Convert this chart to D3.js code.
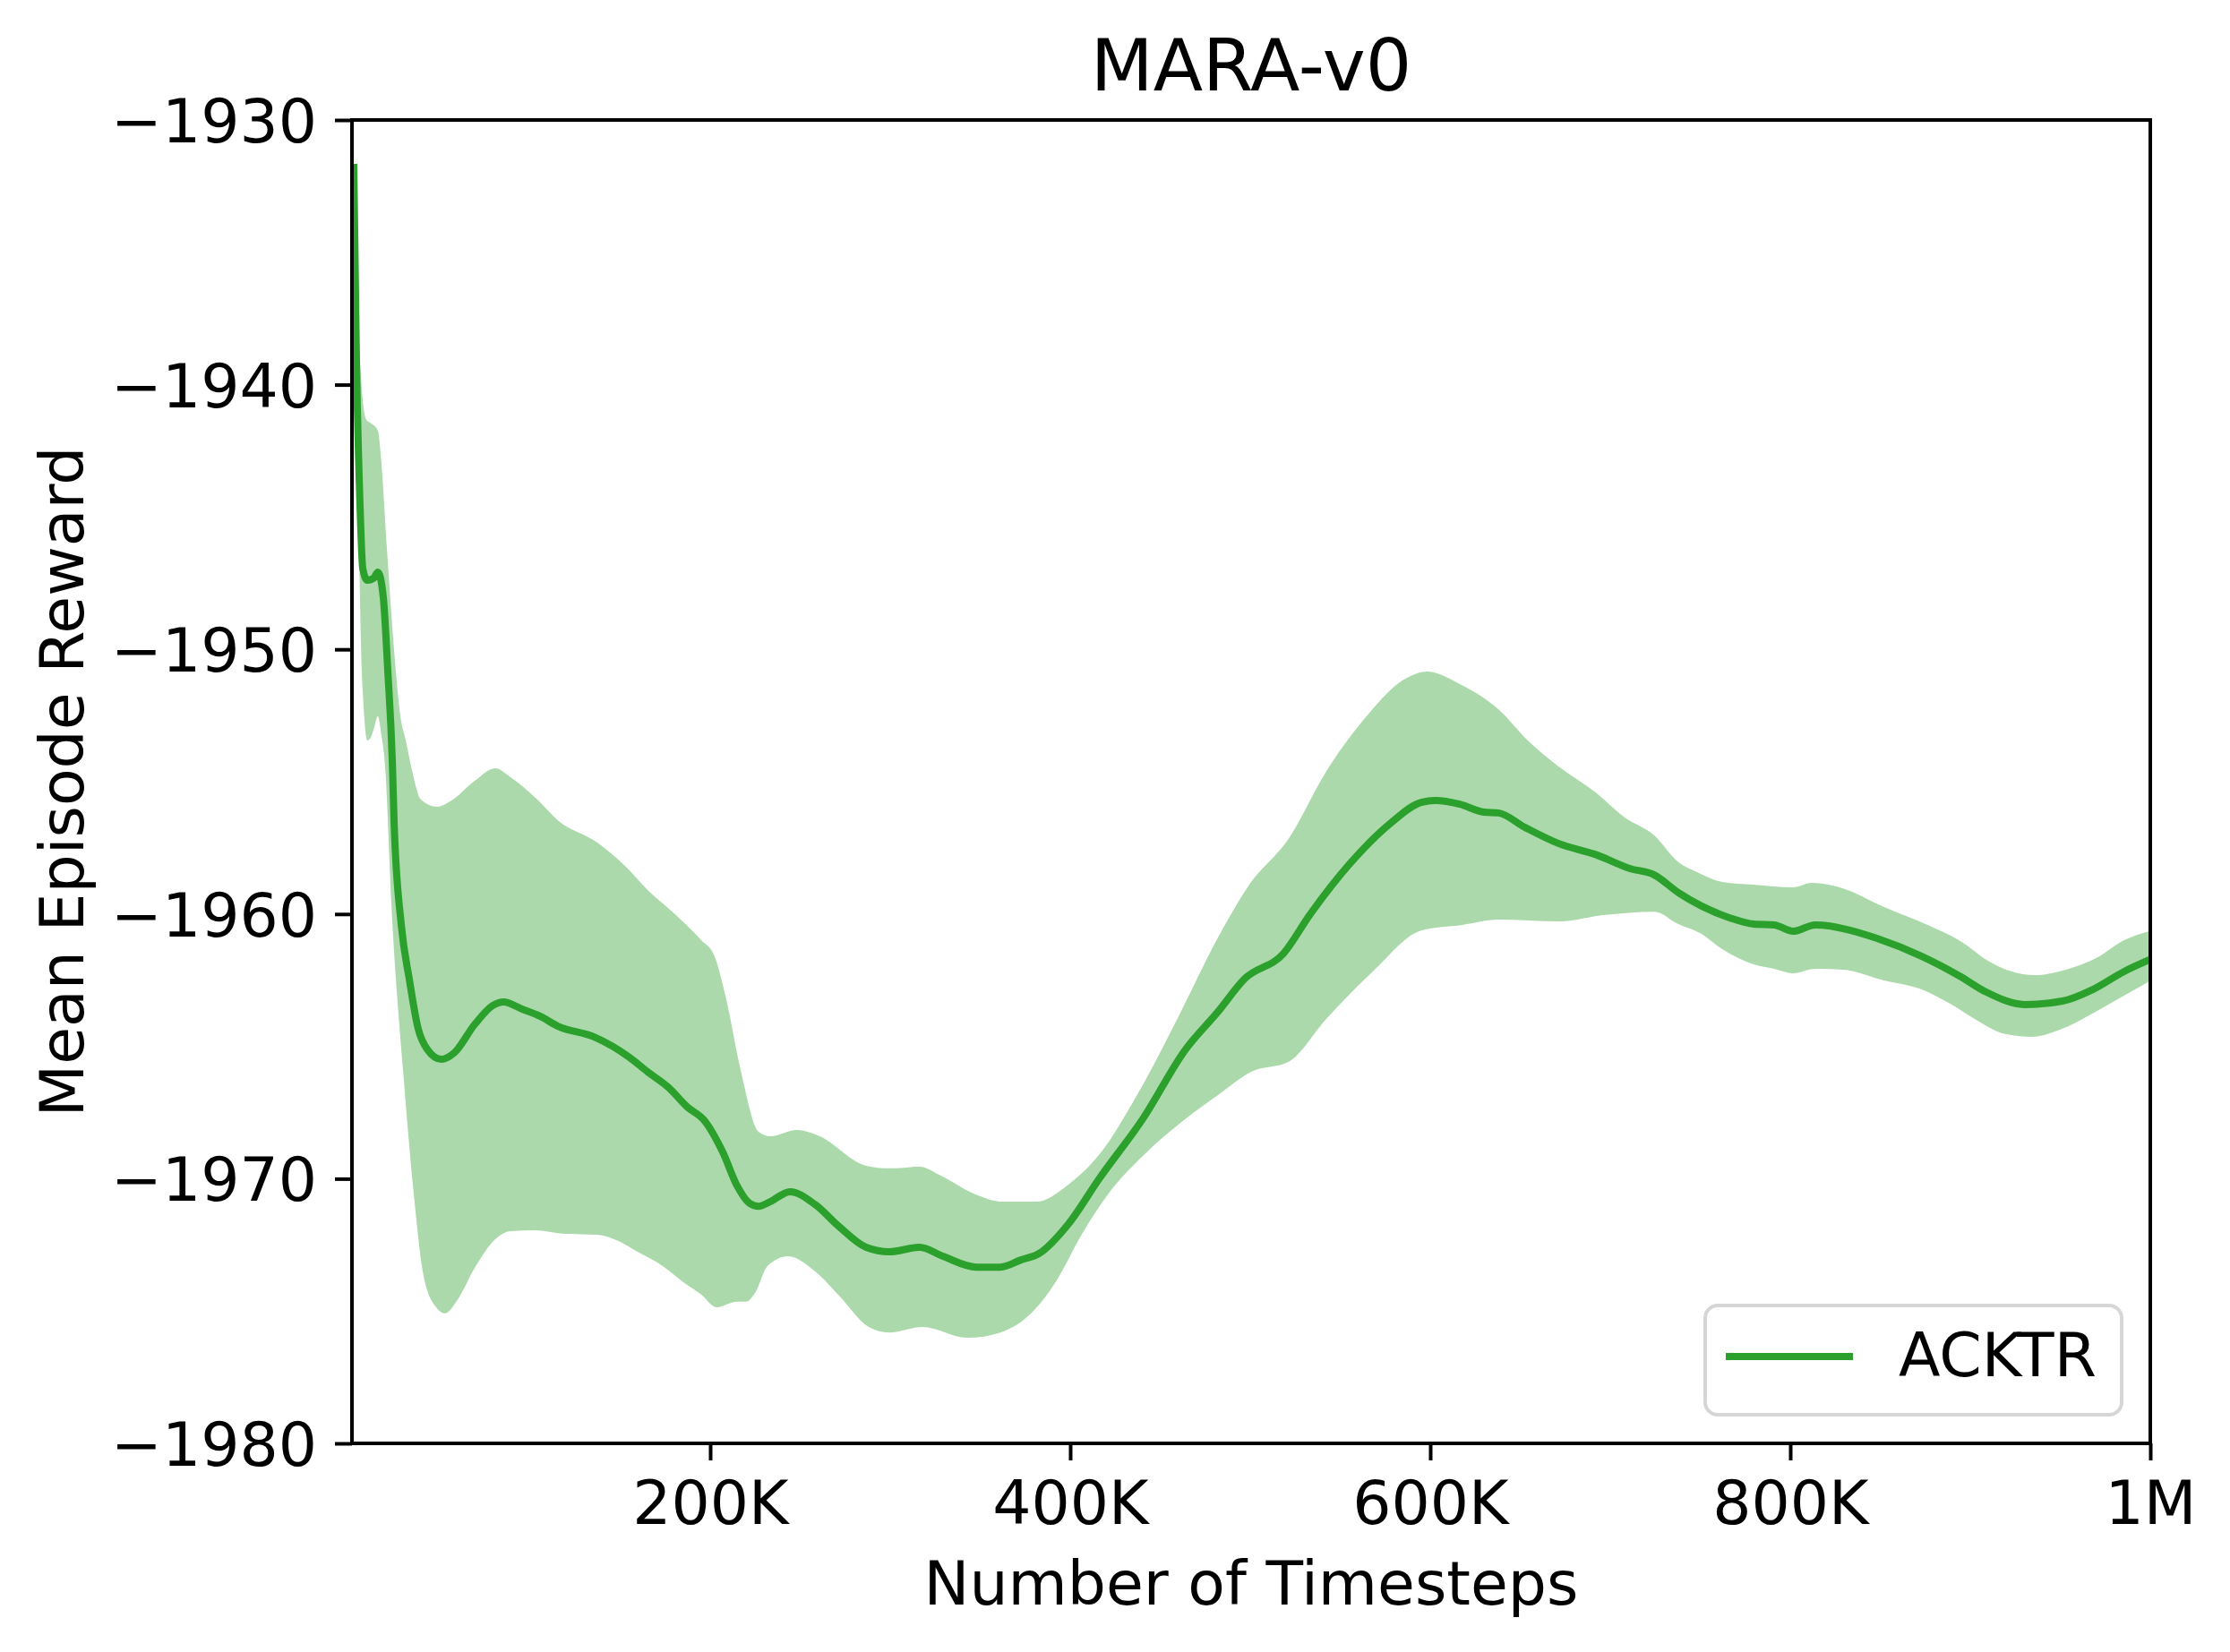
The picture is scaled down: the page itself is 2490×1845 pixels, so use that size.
<!DOCTYPE html>
<html>
<head>
<meta charset="utf-8">
<script src="https://cdn.jsdelivr.net/npm/d3@7"></script>
<style>
  body { margin: 0; background: #fff; }
  text { font-family: "DejaVu Sans", sans-serif; fill: #000; }
</style>
</head>
<body>
<div id="chart"></div>
<script>
// timesteps in thousands, reward values
const meanCurve = [
  [2.0, -1931.66], [3.5, -1939.17], [5.5, -1944.61], [7.0, -1946.95], [9.5, -1947.39],
  [12.9, -1947.32], [15.4, -1947.08], [18.4, -1948.03], [20.9, -1950.81], [23.4, -1954.19],
  [24.4, -1956.52], [28.4, -1960.41], [32.8, -1962.44], [37.8, -1964.34], [42.8, -1965.11],
  [50.7, -1965.49], [57.7, -1965.25], [69.2, -1964.17], [79.1, -1963.46], [85.1, -1963.32],
  [95.5, -1963.59], [105.5, -1963.86], [115.4, -1964.24], [135.3, -1964.64], [155.2, -1965.42],
  [165.2, -1965.96], [177.1, -1966.57], [187.1, -1967.28], [197.0, -1967.82], [207.0, -1969.0],
  [214.9, -1970.26], [221.9, -1970.93], [226.9, -1971.04], [233.3, -1970.87], [244.3, -1970.49],
  [258.2, -1970.97], [271.6, -1971.81], [286.6, -1972.59], [299.5, -1972.76], [316.4, -1972.59],
  [329.3, -1972.93], [347.8, -1973.34], [361.2, -1973.34], [372.6, -1973.07], [382.6, -1972.83],
  [399.0, -1971.71], [415.9, -1970.02], [440.8, -1967.69], [463.7, -1965.15], [482.1, -1963.69],
  [497.0, -1962.44], [518.4, -1961.50], [533.3, -1960.01], [555.2, -1958.11], [578.1, -1956.56],
  [595.0, -1955.78], [603.0, -1955.71], [616.4, -1955.85], [629.8, -1956.15], [637.8, -1956.18],
  [652.7, -1956.73], [671.1, -1957.33], [692.5, -1957.77], [710.9, -1958.28], [724.4, -1958.52],
  [737.8, -1959.19], [750.7, -1959.70], [766.2, -1960.14], [779.6, -1960.38], [791.0, -1960.41],
  [801.5, -1960.65], [813.9, -1960.41], [829.3, -1960.55], [848.2, -1960.92], [873.1, -1961.60],
  [894.0, -1962.34], [908.9, -1962.95], [930.3, -1963.42], [951.2, -1963.29], [968.1, -1962.85],
  [985.5, -1962.17], [999.5, -1961.73]
];

const upperBand = [
  [2.0, -1931.66], [4.5, -1937.61], [7.0, -1940.59], [9.0, -1941.33], [10.9, -1941.43],
  [15.4, -1941.74], [16.9, -1942.58], [20.4, -1946.17], [24.4, -1950.03], [27.9, -1952.53],
  [30.8, -1953.41], [34.3, -1954.56], [39.3, -1955.68], [48.3, -1955.95], [55.7, -1955.74],
  [69.2, -1954.97], [80.6, -1954.49], [89.1, -1954.83], [104.0, -1955.68], [115.4, -1956.46],
  [137.3, -1957.30], [153.7, -1958.25], [165.2, -1959.09], [177.1, -1959.80], [195.0, -1960.99],
  [202.0, -1961.53], [208.5, -1963.09], [216.9, -1965.89], [226.9, -1968.23], [233.3, -1968.40],
  [248.3, -1968.16], [259.7, -1968.36], [286.6, -1969.51], [299.5, -1969.61], [316.4, -1969.55],
  [327.9, -1969.88], [346.3, -1970.56], [362.7, -1970.87], [381.1, -1970.87], [399.0, -1970.22],
  [415.9, -1969.11], [438.8, -1966.64], [460.7, -1963.80], [482.1, -1960.89], [498.5, -1958.99],
  [521.9, -1957.10], [541.8, -1954.66], [561.7, -1952.77], [588.0, -1951.04], [598.0, -1950.84],
  [616.4, -1951.31], [637.8, -1952.26], [654.7, -1953.48], [671.1, -1954.42], [692.5, -1955.44],
  [707.4, -1956.32], [724.4, -1957.03], [737.8, -1958.04], [749.2, -1958.45], [762.2, -1958.79],
  [779.6, -1958.89], [801.5, -1958.99], [811.9, -1958.82], [829.3, -1959.03], [852.2, -1959.74],
  [875.1, -1960.38], [896.0, -1961.09], [908.9, -1961.73], [935.8, -1962.31], [954.7, -1962.07],
  [970.1, -1961.66], [985.5, -1960.99], [999.5, -1960.65]
];

const lowerBand = [
  [2.0, -1931.66], [3.0, -1937.31], [4.5, -1944.07], [6.0, -1949.82], [7.5, -1952.19],
  [9.5, -1953.44], [11.4, -1953.34], [13.4, -1952.94], [15.4, -1952.53], [17.4, -1953.27],
  [19.4, -1954.39], [22.9, -1959.63], [29.4, -1965.89], [35.3, -1970.56], [40.8, -1973.67],
  [47.8, -1974.86], [52.7, -1975.09], [59.2, -1974.62], [69.2, -1973.37], [80.6, -1972.29],
  [89.1, -1971.98], [102.5, -1971.95], [118.9, -1972.08], [137.3, -1972.12], [148.8, -1972.35],
  [158.7, -1972.73], [173.6, -1973.30], [185.1, -1973.91], [195.0, -1974.38], [203.5, -1974.86],
  [214.9, -1974.65], [219.9, -1974.65], [224.9, -1974.32], [231.8, -1973.30], [243.3, -1972.93],
  [258.2, -1973.50], [271.6, -1974.42], [288.1, -1975.60], [299.5, -1975.81], [317.9, -1975.60],
  [342.8, -1976.01], [361.2, -1975.81], [379.1, -1975.03], [392.5, -1973.84], [406.0, -1972.15],
  [422.4, -1970.46], [442.3, -1969.01], [465.7, -1967.65], [482.1, -1966.84], [500.5, -1965.96],
  [521.9, -1965.56], [541.8, -1964.00], [568.1, -1962.17], [595.0, -1960.62], [617.9, -1960.41],
  [637.8, -1960.21], [671.1, -1960.28], [696.0, -1960.04], [724.4, -1959.91], [737.8, -1960.38],
  [750.7, -1960.75], [762.2, -1961.33], [779.6, -1961.90], [791.0, -1962.07], [801.5, -1962.24],
  [813.9, -1962.07], [829.3, -1962.10], [852.2, -1962.51], [873.1, -1962.85], [888.0, -1963.36],
  [900.0, -1963.86], [919.9, -1964.54], [934.8, -1964.64], [949.7, -1964.37], [969.6, -1963.69],
  [984.5, -1963.12], [999.5, -1962.54]
];

const xTicks = [200, 400, 600, 800, 1000];
const xTickLabels = ["200K", "400K", "600K", "800K", "1M"];
const yTicks = [-1980, -1970, -1960, -1950, -1940, -1930];

const width = 2490, height = 1845;
const margin = { top: 134, right: 89, bottom: 233, left: 393 };
const green = "#2ca02c";

const svg = d3.select("#chart").append("svg")
    .attr("width", width)
    .attr("height", height);

const x = d3.scaleLinear().domain([1, 1000]).range([margin.left, width - margin.right]);
const y = d3.scaleLinear().domain([-1980, -1930]).range([height - margin.bottom, margin.top]);

svg.append("clipPath").attr("id", "plot-clip")
  .append("rect")
    .attr("x", x.range()[0]).attr("y", y.range()[1])
    .attr("width", x.range()[1] - x.range()[0])
    .attr("height", y.range()[0] - y.range()[1]);

const line = d3.line()
    .x(d => x(d[0]))
    .y(d => y(d[1]))
    .curve(d3.curveMonotoneX);

// band: upper edge forward, lower edge back
const bandPath = line(upperBand) + line(lowerBand.slice().reverse()).replace(/^M/, "L") + "Z";

const plot = svg.append("g").attr("clip-path", "url(#plot-clip)");

plot.append("path")
    .attr("d", bandPath)
    .attr("fill", green)
    .attr("fill-opacity", 0.4)
    .attr("stroke", "none");

plot.append("path")
    .datum(meanCurve)
    .attr("d", line)
    .attr("fill", "none")
    .attr("stroke", green)
    .attr("stroke-width", 8);

// axes
const xAxis = svg.append("g")
    .attr("transform", `translate(0,${y.range()[0]})`)
    .call(d3.axisBottom(x).tickValues(xTicks)
      .tickFormat((d, i) => xTickLabels[i]).tickSize(19).tickPadding(22).tickSizeOuter(0));

const yAxis = svg.append("g")
    .attr("transform", `translate(${x.range()[0]},0)`)
    .call(d3.axisLeft(y).tickValues(yTicks)
      .tickFormat(d => String(d).replace("-", "\u2212")).tickSize(19).tickPadding(20).tickSizeOuter(0));

[xAxis, yAxis].forEach(a => {
  a.select(".domain").remove();
  a.selectAll(".tick line").attr("stroke", "#000").attr("stroke-width", 4);
  a.selectAll(".tick text").style("font-size", "68px").attr("fill", "#000");
});
xAxis.selectAll(".tick text").attr("dy", "0.72em");
yAxis.selectAll(".tick text").attr("dy", "0.36em");

// frame
svg.append("rect")
    .attr("x", x.range()[0]).attr("y", y.range()[1])
    .attr("width", x.range()[1] - x.range()[0])
    .attr("height", y.range()[0] - y.range()[1])
    .attr("fill", "none")
    .attr("stroke", "#000")
    .attr("stroke-width", 4);

// title & labels
const cx = (x.range()[0] + x.range()[1]) / 2;
const cy = (y.range()[0] + y.range()[1]) / 2;

svg.append("text")
    .attr("x", cx).attr("y", 101)
    .attr("text-anchor", "middle")
    .style("font-size", "81px")
    .text("MARA-v0");

svg.append("text")
    .attr("x", cx).attr("y", 1792)
    .attr("text-anchor", "middle")
    .style("font-size", "68px")
    .text("Number of Timesteps");

svg.append("text")
    .attr("transform", `translate(93,${cy}) rotate(-90)`)
    .attr("text-anchor", "middle")
    .style("font-size", "68px")
    .text("Mean Episode Reward");

// legend
const legend = svg.append("g");
legend.append("rect")
    .attr("x", 1904).attr("y", 1458)
    .attr("width", 465).attr("height", 122)
    .attr("rx", 14)
    .attr("fill", "#fff").attr("fill-opacity", 0.8)
    .attr("stroke", "#d6d6d6").attr("stroke-width", 4);
legend.append("line")
    .attr("x1", 1927).attr("x2", 2069)
    .attr("y1", 1515).attr("y2", 1515)
    .attr("stroke", green).attr("stroke-width", 8);
legend.append("text")
    .attr("x", 2120).attr("y", 1537)
    .style("font-size", "68px")
    .text("ACKTR");
</script>
</body>
</html>
